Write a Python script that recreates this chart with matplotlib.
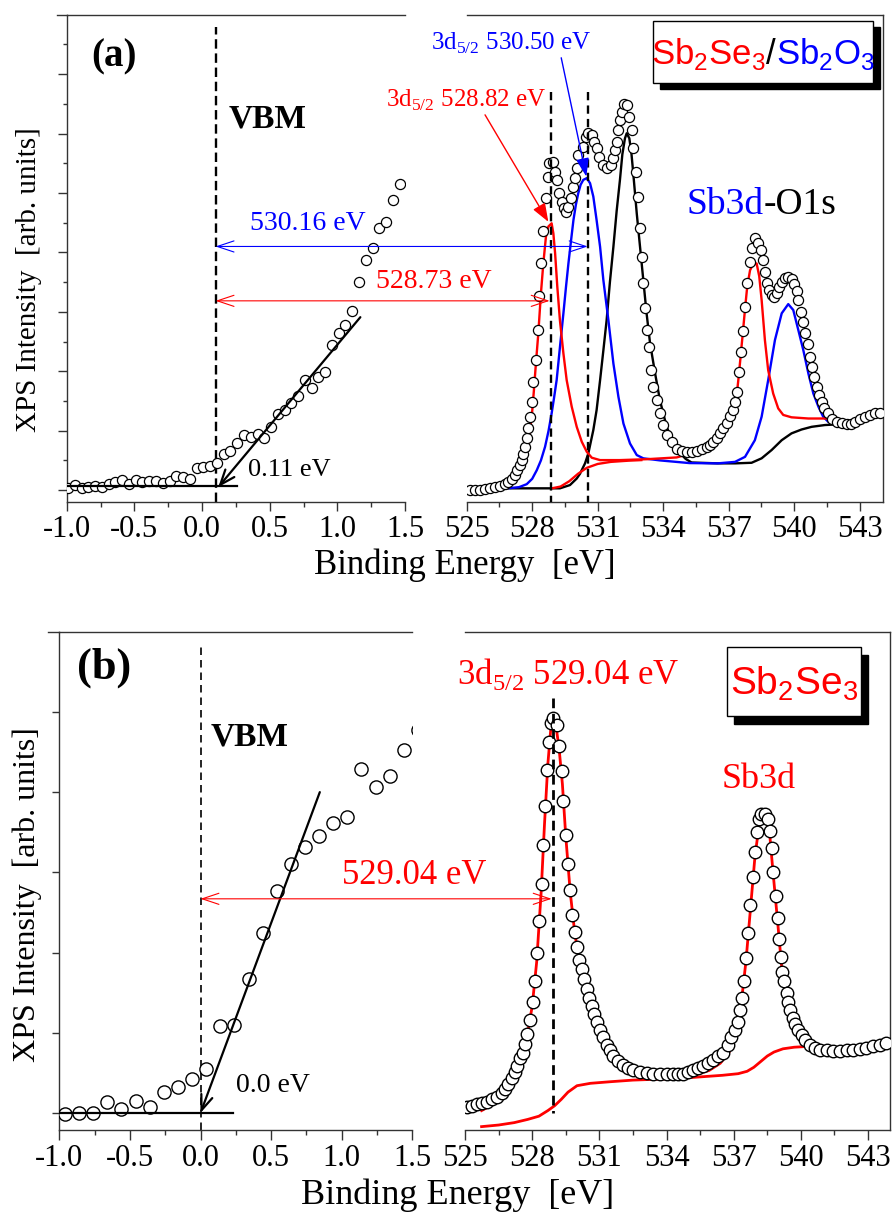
import matplotlib.pyplot as plt
from matplotlib.lines import Line2D
from matplotlib.offsetbox import AnnotationBbox, HPacker, TextArea
from matplotlib.patches import ConnectionPatch, Rectangle

plt.rcParams["font.family"] = ["Liberation Serif", "DejaVu Serif"]
plt.rcParams["mathtext.fontset"] = "custom"
plt.rcParams["mathtext.rm"] = "Liberation Serif"
plt.rcParams["mathtext.sf"] = "Liberation Sans"
plt.rcParams["axes.unicode_minus"] = False

W, H = 893, 1214
RED, BLUE = "#ff0000", "#0000ff"

# ---------------- panel (a): Sb2Se3/Sb2O3 ----------------
A_VB_E = [-0.99, -0.94, -0.89, -0.84, -0.79, -0.74, -0.69, -0.64, -0.59, -0.54,
          -0.49, -0.44, -0.39, -0.34, -0.29, -0.24, -0.19, -0.14, -0.09, -0.04,
          0.01, 0.06, 0.11, 0.16, 0.21, 0.26, 0.31, 0.36, 0.41, 0.46,
          0.51, 0.56, 0.61, 0.66, 0.71, 0.76, 0.81, 0.86, 0.91, 0.96,
          1.01, 1.06, 1.11, 1.16, 1.21, 1.26, 1.31, 1.36, 1.41, 1.46]
A_VB_I = [0.06, 0.18, 0.08, 0.09, 0.15, 0.11, 0.22, 0.28, 0.34, 0.22,
          0.34, 0.28, 0.32, 0.30, 0.25, 0.32, 0.47, 0.43, 0.38, 0.75,
          0.78, 0.81, 0.91, 1.23, 1.33, 1.57, 1.84, 1.80, 1.90, 1.77,
          2.11, 2.56, 2.71, 2.94, 3.16, 3.72, 3.44, 3.80, 3.99, 4.90,
          5.28, 5.57, 6.04, 6.99, 7.75, 8.16, 8.82, 9.01, 9.75, 10.30]
A_VBM = 0.10
A_TANGENT_E = [1.17, 0.12]
A_TANGENT_I = [5.82, 0.10]
A_FLAT_E = [-1.0, 0.26]
A_FLAT_I = [0.15, 0.15]

A_CL_E = [525.15, 525.38, 525.61, 525.84, 526.07, 526.30, 526.53, 526.76, 526.91, 527.06,
          527.21, 527.32, 527.44, 527.52, 527.60, 527.67, 527.75, 527.82, 527.90, 527.98,
          528.05, 528.18, 528.25, 528.31, 528.40, 528.51, 528.63, 528.71, 528.79, 528.94,
          529.05, 529.15, 529.23, 529.35, 529.46, 529.55, 529.66, 529.78, 529.89, 529.96,
          530.04, 530.11, 530.31, 530.47, 530.57, 530.73, 530.83, 530.95, 531.08, 531.23,
          531.41, 531.60, 531.69, 531.79, 531.87, 531.95, 532.02, 532.10, 532.21, 532.33,
          532.45, 532.56, 532.63, 532.75, 532.86, 532.94, 533.02, 533.09, 533.17, 533.24,
          533.37, 533.43, 533.55, 533.70, 533.85, 534.01, 534.16, 534.39, 534.62, 534.85,
          535.07, 535.30, 535.53, 535.76, 535.99, 536.14, 536.30, 536.45, 536.60, 536.75,
          536.91, 537.06, 537.21, 537.29, 537.37, 537.47, 537.56, 537.65, 537.75, 537.85,
          537.98, 538.08, 538.20, 538.36, 538.48, 538.56, 538.66, 538.77, 538.86, 538.97,
          539.09, 539.20, 539.30, 539.43, 539.58, 539.73, 539.88, 540.01, 540.11, 540.19,
          540.31, 540.42, 540.50, 540.62, 540.72, 540.80, 540.92, 541.03, 541.14, 541.26,
          541.38, 541.53, 541.72, 541.95, 542.17, 542.40, 542.60, 542.79, 543.01, 543.24,
          543.47, 543.70, 543.93]
A_CL_I = [0.00, 0.02, 0.02, 0.04, 0.06, 0.09, 0.13, 0.20, 0.28, 0.39,
          0.51, 0.67, 0.84, 1.01, 1.23, 1.46, 1.74, 2.08, 2.47, 2.97,
          3.65, 4.38, 5.39, 6.53, 7.65, 8.73, 9.82, 10.55, 11.02, 11.05,
          10.72, 10.44, 9.99, 9.71, 9.48, 9.37, 9.54, 9.82, 10.21, 10.49,
          10.83, 11.28, 11.56, 11.90, 12.01, 11.95, 11.73, 11.50, 11.22, 10.94,
          10.83, 10.94, 11.17, 11.45, 11.73, 12.12, 12.46, 12.74, 13.00, 12.96,
          12.57, 12.12, 11.50, 10.70, 9.88, 8.81, 7.86, 6.96, 6.12, 5.39,
          4.83, 4.04, 3.48, 3.03, 2.58, 2.19, 1.85, 1.63, 1.40, 1.32,
          1.29, 1.29, 1.32, 1.37, 1.44, 1.52, 1.63, 1.74, 1.91, 2.08,
          2.27, 2.49, 2.69, 2.97, 3.31, 3.98, 4.66, 5.36, 6.17, 6.98,
          7.69, 8.14, 8.47, 8.31, 8.08, 7.74, 7.35, 6.98, 6.73, 6.57,
          6.51, 6.64, 6.82, 7.01, 7.13, 7.16, 7.09, 6.94, 6.71, 6.40,
          6.00, 5.67, 5.30, 4.92, 4.49, 4.15, 3.82, 3.48, 3.20, 2.97,
          2.75, 2.58, 2.41, 2.30, 2.27, 2.24, 2.22, 2.30, 2.38, 2.47,
          2.53, 2.58, 2.58]

# Sb2Se3 component (red)
A_RED_E = [526.37, 526.98, 527.37, 527.67, 527.82, 527.98, 528.08, 528.17, 528.28, 528.40,
           528.51, 528.63, 528.74, 528.89, 528.97, 529.05, 529.15, 529.27, 529.43, 529.58,
           529.81, 530.04, 530.27, 530.50, 530.73, 531.11, 532.02, 533.24, 534.62, 535.00,
           535.33, 535.80, 536.30, 536.75, 537.06, 537.21, 537.37, 537.47, 537.56, 537.65,
           537.75, 537.85, 537.98, 538.10, 538.28, 538.40, 538.51, 538.66, 538.81, 539.04,
           539.27, 539.50, 539.88, 540.65, 541.41, 541.87, 542.17]
A_RED_I = [0.06, 0.17, 0.45, 1.01, 1.57, 2.47, 3.37, 4.26, 5.27, 6.62,
           7.63, 8.53, 8.87, 8.98, 8.64, 7.97, 6.85, 5.72, 4.60, 3.70,
           2.81, 2.13, 1.63, 1.29, 1.09, 1.01, 1.01, 1.04, 1.10, 1.18,
           1.28, 1.31, 1.55, 2.00, 2.40, 2.62, 3.20, 3.90, 4.60, 5.30,
           6.10, 6.85, 7.40, 7.58, 7.63, 7.20, 6.40, 5.05, 4.04, 3.25,
           2.75, 2.53, 2.45, 2.41, 2.41, 2.38, 2.33]
A_REDBG_E = [528.90, 529.30, 529.70, 530.10, 530.50, 531.00, 531.60, 532.40, 533.00]
A_REDBG_I = [0.06, 0.12, 0.30, 0.55, 0.75, 0.88, 0.95, 0.99, 1.01]

# Sb2O3 component (blue)
A_BLUE_E = [526.37, 527.00, 527.40, 527.75, 528.00, 528.21, 528.40, 528.59, 528.75, 528.89,
            529.00, 529.12, 529.27, 529.43, 529.55, 529.66, 529.78, 529.89, 530.00, 530.11,
            530.22, 530.34, 530.50, 530.65, 530.80, 530.95, 531.11, 531.26, 531.49, 531.72,
            531.95, 532.18, 532.48, 532.79, 533.09, 533.85, 534.60, 535.20, 536.50, 537.29,
            537.75, 538.20, 538.51, 538.81, 539.12, 539.43, 539.73, 539.96, 540.19, 540.42,
            540.65, 540.88, 541.11, 541.33, 541.56, 541.87, 542.17, 542.50]
A_BLUE_I = [0.06, 0.07, 0.10, 0.20, 0.38, 0.67, 1.00, 1.46, 2.00, 2.58,
            3.10, 3.70, 4.80, 5.95, 6.85, 7.63, 8.40, 9.09, 9.60, 9.99,
            10.28, 10.44, 10.50, 10.33, 9.88, 9.09, 8.19, 7.07, 5.72, 4.26,
            3.14, 2.24, 1.57, 1.18, 1.07, 1.00, 0.95, 0.91, 0.90, 0.95,
            1.12, 1.68, 2.47, 3.70, 5.05, 5.95, 6.26, 6.06, 5.39, 4.71,
            3.93, 3.25, 2.81, 2.47, 2.30, 2.22, 2.21, 2.21]

# O 1s component (black)
A_BLACK_E = [526.37, 529.27, 529.73, 530.04, 530.19, 530.42, 530.57, 530.80, 530.95, 531.11,
             531.26, 531.41, 531.56, 531.72, 531.87, 532.02, 532.13, 532.25, 532.33, 532.45,
             532.55, 532.63, 532.79, 532.94, 533.09, 533.24, 533.40, 533.63, 533.85, 534.16,
             534.42, 534.70, 535.03, 535.30, 536.50, 537.30, 538.05, 538.51, 538.97, 539.43,
             539.88, 540.34, 540.80, 541.41, 542.17, 542.70]
A_BLACK_I = [0.06, 0.06, 0.17, 0.39, 0.55, 0.90, 1.23, 2.02, 2.69, 3.70,
             4.70, 5.72, 7.00, 8.19, 9.40, 10.44, 11.30, 11.84, 12.01, 11.84,
             11.30, 10.66, 9.31, 8.19, 7.07, 5.95, 4.94, 3.93, 3.03, 2.13,
             1.67, 1.30, 1.05, 0.93, 0.90, 0.90, 0.92, 1.07, 1.35, 1.68,
             1.91, 2.04, 2.13, 2.19, 2.22, 2.22]

A_PEAK_RED = 528.86
A_PEAK_BLUE = 530.56

# ---------------- panel (b): Sb2Se3 ----------------
B_VB_E = [-0.96, -0.86, -0.76, -0.66, -0.56, -0.46, -0.36, -0.26, -0.16, -0.06,
          0.04, 0.14, 0.24, 0.34, 0.44, 0.54, 0.64, 0.74, 0.84, 0.94,
          1.04, 1.14, 1.24, 1.34, 1.44, 1.54]
B_VB_I = [-0.01, 0.00, 0.00, 0.14, 0.05, 0.15, 0.08, 0.26, 0.32, 0.42,
          0.55, 1.08, 1.10, 1.67, 2.24, 2.77, 3.11, 3.32, 3.45, 3.62,
          3.69, 4.29, 4.07, 4.20, 4.52, 4.78]
B_VBM = 0.0
B_TANGENT_E = [0.845, 0.0]
B_TANGENT_I = [4.0, 0.0]
B_FLAT_E = [-1.0, 0.23]
B_FLAT_I = [0.0, 0.0]

B_CL_E = [525.07, 525.30, 525.52, 525.74, 525.97, 526.19, 526.41, 526.64, 526.79, 526.93,
          527.08, 527.23, 527.34, 527.46, 527.57, 527.68, 527.78, 527.90, 528.02, 528.12,
          528.23, 528.32, 528.42, 528.50, 528.59, 528.68, 528.76, 528.84, 528.94, 529.09,
          529.20, 529.32, 529.39, 529.49, 529.58, 529.69, 529.79, 529.90, 529.99, 530.10,
          530.21, 530.31, 530.43, 530.55, 530.65, 530.76, 530.88, 531.03, 531.18, 531.32,
          531.47, 531.62, 531.85, 532.07, 532.29, 532.51, 532.81, 533.11, 533.41, 533.71,
          534.00, 534.30, 534.52, 534.75, 534.97, 535.19, 535.42, 535.64, 535.86, 536.09,
          536.31, 536.53, 536.76, 536.90, 537.05, 537.20, 537.28, 537.35, 537.46, 537.57,
          537.65, 537.75, 537.87, 537.95, 538.05, 538.14, 538.24, 538.39, 538.54, 538.62,
          538.69, 538.76, 538.87, 538.96, 539.03, 539.09, 539.17, 539.24, 539.36, 539.43,
          539.51, 539.63, 539.73, 539.88, 540.03, 540.18, 540.40, 540.63, 540.85, 541.15,
          541.44, 541.74, 542.04, 542.34, 542.63, 542.93, 543.23, 543.53, 543.82]
B_CL_I = [0.08, 0.09, 0.11, 0.12, 0.14, 0.17, 0.20, 0.25, 0.30, 0.36,
          0.44, 0.51, 0.59, 0.68, 0.75, 0.86, 0.99, 1.16, 1.38, 1.65,
          2.00, 2.39, 2.86, 3.34, 3.83, 4.28, 4.63, 4.86, 4.93, 4.84,
          4.58, 4.26, 3.89, 3.47, 3.10, 2.78, 2.47, 2.26, 2.07, 1.91,
          1.79, 1.67, 1.55, 1.43, 1.33, 1.23, 1.14, 1.04, 0.95, 0.85,
          0.78, 0.71, 0.65, 0.60, 0.56, 0.53, 0.51, 0.50, 0.49, 0.48,
          0.48, 0.48, 0.48, 0.49, 0.51, 0.54, 0.56, 0.59, 0.62, 0.66,
          0.71, 0.75, 0.85, 0.95, 1.04, 1.14, 1.28, 1.43, 1.65, 1.93,
          2.25, 2.59, 2.94, 3.25, 3.50, 3.66, 3.73, 3.73, 3.66, 3.52,
          3.30, 3.01, 2.70, 2.43, 2.17, 1.94, 1.76, 1.64, 1.50, 1.38,
          1.28, 1.19, 1.11, 1.04, 0.97, 0.91, 0.85, 0.81, 0.79, 0.78,
          0.77, 0.77, 0.78, 0.79, 0.80, 0.81, 0.83, 0.85, 0.87]

B_FIT_E = [525.74, 526.20, 526.65, 527.10, 527.45, 527.75, 528.00, 528.20, 528.40, 528.55,
           528.70, 528.85, 528.95, 529.05, 529.20, 529.35, 529.50, 529.70, 529.90, 530.10,
           530.40, 530.75, 531.10, 531.50, 532.00, 532.60, 533.30, 534.00, 534.70, 535.30,
           535.90, 536.40, 536.80, 537.10, 537.35, 537.55, 537.75, 537.95, 538.15, 538.30,
           538.45, 538.60, 538.75, 538.95, 539.15, 539.40, 539.70, 540.00, 540.30, 540.60]
B_FIT_I = [0.03, 0.10, 0.20, 0.38, 0.60, 0.92, 1.33, 1.88, 2.75, 3.60,
           4.35, 4.85, 4.92, 4.85, 4.55, 4.10, 3.45, 2.75, 2.25, 1.90,
           1.56, 1.22, 0.97, 0.75, 0.58, 0.50, 0.47, 0.46, 0.46, 0.48,
           0.53, 0.62, 0.76, 0.98, 1.40, 1.90, 2.55, 3.20, 3.62, 3.73,
           3.68, 3.50, 3.02, 2.42, 1.80, 1.42, 1.12, 0.97, 0.86, 0.81]
B_BG_E = [525.74, 526.50, 527.20, 527.80, 528.30, 528.70, 529.00, 529.30, 529.60, 530.00,
          530.60, 531.50, 532.50, 533.50, 534.50, 535.50, 536.50, 537.20, 537.60, 537.90,
          538.20, 538.50, 538.80, 539.20, 539.70, 540.30]
B_BG_I = [-0.17, -0.15, -0.12, -0.08, -0.04, 0.03, 0.09, 0.17, 0.26, 0.34,
          0.37, 0.39, 0.41, 0.42, 0.43, 0.45, 0.47, 0.49, 0.52, 0.57,
          0.64, 0.71, 0.76, 0.80, 0.82, 0.83]
B_PEAK = 528.95

X_TICKS_VB = [-1.0, -0.5, 0.0, 0.5, 1.0, 1.5]
X_MINOR_VB = [-0.75, -0.25, 0.25, 0.75, 1.25]
X_TICKS_CL = [525, 528, 531, 534, 537, 540, 543]
X_MINOR_CL = [526.5, 529.5, 532.5, 535.5, 538.5, 541.5]


def px(x, y):
    """Pixel position (top-left origin) to figure fraction."""
    return x / W, 1 - y / H


def rect(x0, y0, x1, y1):
    return [x0 / W, 1 - y1 / H, (x1 - x0) / W, (y1 - y0) / H]


def style_pair(axl, axr, ylim, yticks, yminor, ytick_len, top_ext):
    axl.set_xlim(-1.0, 1.5)
    axl.set_ylim(*ylim)
    axr.set_ylim(*ylim)
    axl.spines["right"].set_visible(False)
    axr.spines["left"].set_visible(False)
    for ax in (axl, axr):
        for sp in ax.spines.values():
            sp.set_linewidth(1.0)
            sp.set_color("#333333")
    axl.set_xticks(X_TICKS_VB)
    axl.set_xticks(X_MINOR_VB, minor=True)
    axl.set_xticklabels([f"{v:.1f}" for v in X_TICKS_VB])
    axr.set_xticks(X_TICKS_CL)
    axr.set_xticks(X_MINOR_CL, minor=True)
    axl.set_yticks(yticks)
    axl.set_yticks(yminor, minor=True)
    axl.set_yticklabels([])
    axr.set_yticks([])
    for ax in (axl, axr):
        ax.tick_params(axis="x", which="major", direction="out", length=6.5,
                       width=1.0, labelsize=22, pad=3, color="#333333")
        ax.tick_params(axis="x", which="minor", direction="out", length=3.6,
                       width=1.0, color="#333333")
    axl.tick_params(axis="y", which="major", direction="out", length=ytick_len,
                    width=1.0, color="#333333")
    axl.tick_params(axis="y", which="minor", direction="out", length=3.0,
                    width=1.0, color="#333333")
    axl.add_line(Line2D([-top_ext, 0], [1, 1], transform=axl.transAxes,
                        color="#333333", lw=1.0, clip_on=False))


def legend_box(fig, x0, y0, x1, y1, dx, dy, pieces, size):
    fig.add_artist(Rectangle(px(x0 + dx, y1 + dy), (x1 - x0) / W, (y1 - y0) / H,
                             transform=fig.transFigure, fc="black", ec="black",
                             zorder=5))
    fig.add_artist(Rectangle(px(x0, y1), (x1 - x0) / W, (y1 - y0) / H,
                             transform=fig.transFigure, fc="white", ec="black",
                             lw=1.0, zorder=6))
    areas = [TextArea(s, textprops=dict(color=c, fontsize=size, family="Liberation Sans"))
             for s, c in pieces]
    pack = HPacker(children=areas, align="baseline", pad=0, sep=0)
    ab = AnnotationBbox(pack, px((x0 + x1) / 2, (y0 + y1) / 2 + 2),
                        xycoords="figure fraction", frameon=False,
                        box_alignment=(0.5, 0.5), pad=0, zorder=7)
    fig.add_artist(ab)


def h_arrow(fig, axl, axr, x_left, x_right, y, color):
    con = ConnectionPatch(xyA=(x_left, y), coordsA="data", axesA=axl,
                          xyB=(x_right, y), coordsB="data", axesB=axr,
                          arrowstyle="<->,head_length=1.2,head_width=0.4",
                          mutation_scale=10, color=color, lw=0.8,
                          shrinkA=0, shrinkB=0, zorder=4)
    fig.add_artist(con)


def main():
    fig = plt.figure(figsize=(W / 100, H / 100), dpi=100)

    # ================= panel (a) =================
    axl = fig.add_axes(rect(66.7, 15, 405, 501.7))
    axr = fig.add_axes(rect(466.7, 15, 883, 501.7))
    style_pair(axl, axr, (-0.39, 15.99), list(range(0, 16, 2)),
               list(range(1, 16, 2)), 6.5, 0.028)
    axr.set_xlim(525, 544.07)

    axl.plot(A_VB_E, A_VB_I, "o", ms=7.3, mfc="white", mec="black", mew=0.9, zorder=3)
    axl.plot(A_FLAT_E, A_FLAT_I, color="black", lw=1.6, zorder=4)
    axl.annotate("", xy=(A_TANGENT_E[1], A_TANGENT_I[1]),
                 xytext=(A_TANGENT_E[0], A_TANGENT_I[0]),
                 arrowprops=dict(arrowstyle="->,head_length=0.9,head_width=0.35",
                                 lw=1.6, color="black", shrinkA=0, shrinkB=0,
                                 mutation_scale=12), zorder=4)
    axl.axvline(A_VBM, ymin=0, ymax=(15.6 + 0.39) / 16.38, color="black",
                lw=1.7, dashes=(4, 2), zorder=2)
    axl.text(-0.815, 14.59, "(a)", fontsize=28, fontweight="bold", va="center")
    axl.text(0.195, 12.5, "VBM", fontsize=24, fontweight="bold", va="center")
    axl.text(0.338, 0.67, "0.11 eV", fontsize=19, va="center")
    axl.text(0.353, 8.96, "530.16 eV", fontsize=20, va="center", color=BLUE, zorder=5)

    axr.plot(A_BLACK_E, A_BLACK_I, color="black", lw=1.7, zorder=2)
    axr.plot(A_BLUE_E, A_BLUE_I, color=BLUE, lw=1.7, zorder=2)
    axr.plot(A_REDBG_E, A_REDBG_I, color=RED, lw=1.7, zorder=2)
    axr.plot(A_RED_E, A_RED_I, color=RED, lw=1.7, zorder=2)
    axr.plot(A_CL_E, A_CL_I, "o", ms=7.3, mfc="white", mec="black", mew=0.9, zorder=3)
    for pk in (A_PEAK_RED, A_PEAK_BLUE):
        axr.plot([pk, pk], [13.4, -0.39], color="black", lw=1.7, dashes=(3.5, 2.2),
                 zorder=4, clip_on=False)
    axr.annotate("", xy=(528.74, 9.03), xytext=(525.84, 12.63),
                 arrowprops=dict(arrowstyle="-|>,head_length=0.8,head_width=0.3",
                                 lw=1.0, color=RED, shrinkA=0, shrinkB=0,
                                 mutation_scale=14), zorder=5)
    axr.annotate("", xy=(530.48, 10.55), xytext=(529.33, 14.55),
                 arrowprops=dict(arrowstyle="-|>,head_length=0.8,head_width=0.28",
                                 lw=1.0, color=BLUE, shrinkA=0, shrinkB=0,
                                 mutation_scale=14), zorder=5)
    sb = HPacker(children=[TextArea("Sb3d", textprops=dict(color=BLUE, fontsize=27)),
                           TextArea("-O1s", textprops=dict(color="black", fontsize=27))],
                 align="baseline", pad=0, sep=0)
    axr.add_artist(AnnotationBbox(sb, (535.05, 9.6), xycoords="data", frameon=False,
                                  box_alignment=(0, 0.5), pad=0, zorder=6))

    h_arrow(fig, axl, axr, A_VBM, 530.54, 8.2, BLUE)
    h_arrow(fig, axl, axr, A_VBM, 528.80, 6.37, RED)
    fig.text(*px(434, 282), "528.73 eV", fontsize=20, color=RED, ha="center", va="center")
    fig.text(*px(466, 100), r"3d$_{\mathrm{5/2}}$ 528.82 eV", fontsize=18, color=RED,
             ha="center", va="center")
    fig.text(*px(511, 43), r"3d$_{\mathrm{5/2}}$ 530.50 eV", fontsize=18, color=BLUE,
             ha="center", va="center")
    legend_box(fig, 653, 21, 873, 83, 7, 6,
               [(r"Sb$_\mathsf{2}$Se$_\mathsf{3}$", RED), ("/", "black"),
                (r"Sb$_\mathsf{2}$O$_\mathsf{3}$", BLUE)], 25)

    fig.text(*px(29, 280), "XPS Intensity  [arb. units]", rotation=90, fontsize=21,
             ha="center", va="center")
    fig.text(*px(465, 565), "Binding Energy  [eV]", fontsize=25, ha="center", va="center")

    # ================= panel (b) =================
    bxl = fig.add_axes(rect(59.3, 631.7, 412.3, 1130))
    bxr = fig.add_axes(rect(465, 631.7, 890, 1130))
    style_pair(bxl, bxr, (-0.212, 6.0), [0, 1, 2, 3, 4, 5], [], 5.0, 0.031)
    bxr.set_xlim(525, 543.98)
    bxl.tick_params(axis="x", which="major", length=7)
    bxr.tick_params(axis="x", which="major", length=7)

    bxl.plot(B_VB_E, B_VB_I, "o", ms=9.5, mfc="white", mec="black", mew=1.0, zorder=3)
    bxl.plot(B_FLAT_E, B_FLAT_I, color="black", lw=1.6, zorder=4)
    bxl.annotate("", xy=(B_TANGENT_E[1], B_TANGENT_I[1]),
                 xytext=(B_TANGENT_E[0], B_TANGENT_I[0]),
                 arrowprops=dict(arrowstyle="->,head_length=0.9,head_width=0.35",
                                 lw=1.6, color="black", shrinkA=0, shrinkB=0,
                                 mutation_scale=12), zorder=4)
    bxl.axvline(B_VBM, ymin=0, ymax=(5.86 + 0.212) / 6.212, color="black",
                lw=1.2, dashes=(4.5, 3), zorder=2)
    bxl.text(-0.877, 5.55, "(b)", fontsize=32, fontweight="bold", va="center")
    bxl.text(0.07, 4.69, "VBM", fontsize=24, fontweight="bold", va="center")
    bxl.text(0.248, 0.345, "0.0 eV", fontsize=20, va="center")

    bxr.plot(B_BG_E, B_BG_I, color=RED, lw=2.0, zorder=2)
    bxr.plot(B_FIT_E, B_FIT_I, color=RED, lw=2.0, zorder=2)
    bxr.plot(B_CL_E, B_CL_I, "o", ms=9.0, mfc="white", mec="black", mew=1.0, zorder=3)
    bxr.plot([B_PEAK, B_PEAK], [5.17, 0.0], color="black", lw=2.0, dashes=(3.5, 2),
             zorder=4)
    bxr.text(536.46, 4.16, "Sb3d", fontsize=26, color=RED, va="center")

    h_arrow(fig, bxl, bxr, B_VBM, B_PEAK - 0.08, 2.67, RED)
    fig.text(*px(414, 876), "529.04 eV", fontsize=25, color=RED, ha="center", va="center")
    fig.text(*px(568, 674), r"3d$_{\mathrm{5/2}}$ 529.04 eV", fontsize=25, color=RED,
             ha="center", va="center")
    legend_box(fig, 727, 647, 861, 716, 7, 8,
               [(r"Sb$_\mathsf{2}$Se$_\mathsf{3}$", RED)], 28)

    fig.text(*px(27, 895), "XPS Intensity  [arb. units]", rotation=90, fontsize=23,
             ha="center", va="center")
    fig.text(*px(458, 1195), "Binding Energy  [eV]", fontsize=26, ha="center", va="center")

    fig.savefig("out.png", dpi=100)


if __name__ == "__main__":
    main()
